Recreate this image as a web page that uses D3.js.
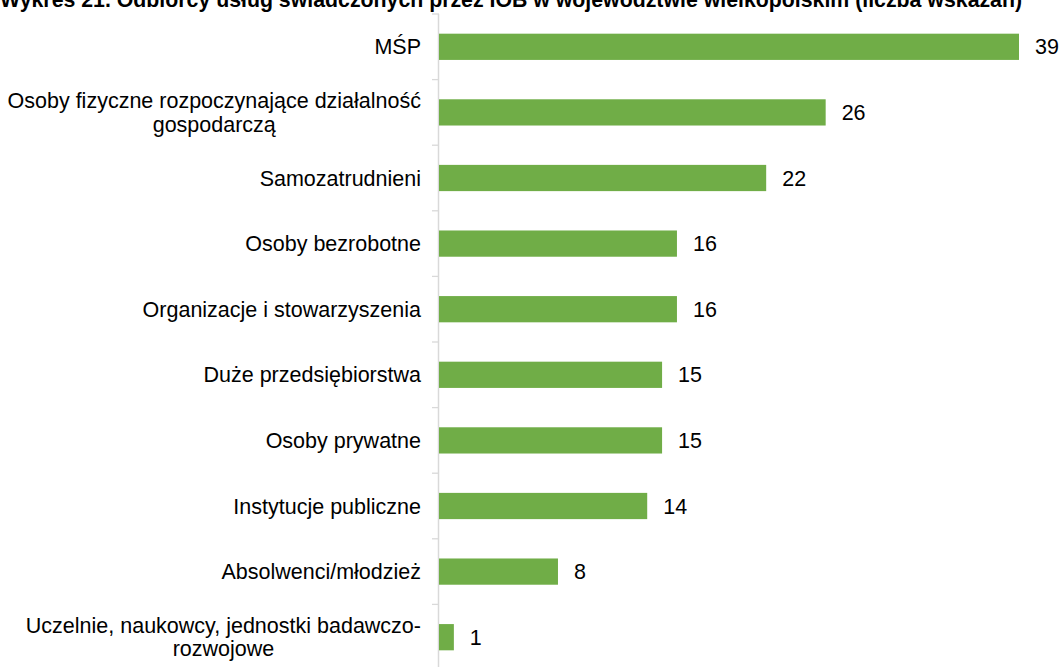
<!DOCTYPE html>
<html><head><meta charset="utf-8">
<script src="https://cdn.jsdelivr.net/npm/d3@7"></script>
<style>body{margin:0;background:#fff}svg{display:block}</style>
</head><body>
<script>
const titleText = "Wykres 21. Odbiorcy usług świadczonych przez IOB w województwie wielkopolskim (liczba wskazań)";
const categories = [
  ["MŚP"],
  ["Osoby fizyczne rozpoczynające działalność", "gospodarczą"],
  ["Samozatrudnieni"],
  ["Osoby bezrobotne"],
  ["Organizacje i stowarzyszenia"],
  ["Duże przedsiębiorstwa"],
  ["Osoby prywatne"],
  ["Instytucje publiczne"],
  ["Absolwenci/młodzież"],
  ["Uczelnie, naukowcy, jednostki badawczo-", "rozwojowe"]
];
const values = [39, 26, 22, 16, 16, 15, 15, 14, 8, 1];

(function () {
const W = 1060, H = 667;
const svg = d3.select("body").append("svg").attr("width", W).attr("height", H);
const font = "'Liberation Sans', Arial, sans-serif";
const fs = 21.5;

svg.append("text").attr("x", 511).attr("y", 7).attr("text-anchor", "middle")
  .attr("font-family", font).attr("font-size", 21.3).attr("font-weight", "bold")
  .attr("fill", "#000").text(titleText);

const x0 = 439;
const x = d3.scaleLinear().domain([0, 39]).range([x0, 1019]);
const idx = d3.range(categories.length);
const step = 65.6, plotTop = 14;
const y = d3.scaleBand().domain(idx).range([plotTop, plotTop + step * 10]).paddingInner(0.6).paddingOuter(0.3);

const bandStarts = d3.range(11).map(i => plotTop + i * step);
svg.append("g").selectAll("line").data(bandStarts).join("line")
  .attr("x1", x0 - 7).attr("x2", x0).attr("y1", d => d).attr("y2", d => d)
  .attr("stroke", "#d9d9d9").attr("stroke-width", 1.3);
svg.append("line").attr("x1", x0 - 0.5).attr("x2", x0 - 0.5).attr("y1", plotTop).attr("y2", H)
  .attr("stroke", "#d9d9d9").attr("stroke-width", 1.5);

svg.append("g").selectAll("rect").data(values).join("rect")
  .attr("x", x0).attr("y", (d, i) => y(i)).attr("height", y.bandwidth())
  .attr("width", d => x(d) - x0).attr("fill", "#70ad47");

svg.append("g").selectAll("text").data(values).join("text")
  .attr("x", d => x(d) + 16).attr("y", (d, i) => y(i) + y.bandwidth() / 2)
  .attr("dy", "0.35em").attr("font-family", font).attr("font-size", fs).attr("fill", "#000")
  .text(d => d);

const labelRight = 421;
categories.forEach((lines, i) => {
  const cy = y(i) + y.bandwidth() / 2;
  const g = svg.append("g");
  const lh = 23.5;
  const texts = lines.map((t, j) => g.append("text")
    .attr("y", cy + (j - (lines.length - 1) / 2) * lh).attr("dy", "0.35em")
    .attr("font-family", font).attr("font-size", fs).attr("fill", "#000").text(t));
  const maxW = d3.max(texts, t => t.node().getComputedTextLength());
  texts.forEach(t => t.attr("text-anchor", "middle").attr("x", labelRight - maxW / 2));
});
})();
</script>
</body></html>
